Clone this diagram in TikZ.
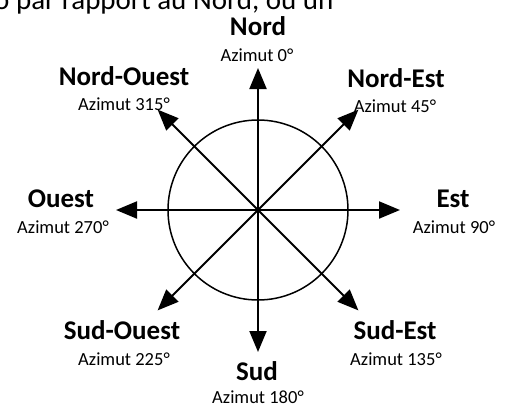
\documentclass[tikz,border=0pt]{standalone}
\usepackage{fontspec}
\setmainfont{Carlito}
\usetikzlibrary{arrows.meta}
\begin{document}
\begin{tikzpicture}[x=1pt,y=-1pt,
  dirname/.style={font=\fontsize{27}{30}\selectfont\bfseries, inner sep=0pt, anchor=base},
  azim/.style={font=\fontsize{18.5}{20}\selectfont, inner sep=0pt, anchor=base},
  arr/.style={line width=2pt, -{Triangle[length=21pt,width=17pt]}},
  ring/.style={line width=1.5pt}
]
\useasboundingbox (0,0) rectangle (508,407);
\clip (0,0) rectangle (508,407);
\fill[white] (0,0) rectangle (508,407);

% clipped line of running text at the top
\node[font=\fontsize{29}{32}\selectfont, inner sep=0pt, anchor=base west] (top) at (-6,9) {o par rapport au Nord, ou un};

\coordinate (c) at (258,210);
\node[ring, draw, circle, minimum size=180pt, inner sep=0pt] (ring) at (c) {};

\coordinate (tN)  at (258,68);
\coordinate (tS)  at (258,352);
\coordinate (tE)  at (400,210);
\coordinate (tW)  at (116,210);
\path (c) ++(100.4,-100.4) coordinate (tNE);
\path (c) ++(100.4,100.4) coordinate (tSE);
\path (c) ++(-100.4,100.4) coordinate (tSW);
\path (c) ++(-100.4,-100.4) coordinate (tNW);

\foreach \t in {tN,tS,tE,tW,tNE,tSE,tSW,tNW}
  \draw[arr] (c) -- (\t);

\node[dirname] (nN)  at (258,35)  {Nord};
\node[azim]    (aN)  at (257,61)  {Azimut 0°};
\node[dirname] (nNW) at (124,85)  {Nord-Ouest};
\node[azim]    (aNW) at (124,110) {Azimut 315°};
\node[dirname] (nNE) at (396,87)  {Nord-Est};
\node[azim]    (aNE) at (395,112) {Azimut 45°};
\node[dirname] (nW)  at (61,207)  {Ouest};
\node[azim]    (aW)  at (63,233)  {Azimut 270°};
\node[dirname] (nE)  at (453,207) {Est};
\node[azim]    (aE)  at (454,233) {Azimut 90°};
\node[dirname] (nSW) at (122,339) {Sud-Ouest};
\node[azim]    (aSW) at (124,365) {Azimut 225°};
\node[dirname] (nSE) at (395,339) {Sud-Est};
\node[azim]    (aSE) at (396,365) {Azimut 135°};
\node[dirname] (nS)  at (257,380) {Sud};
\node[azim]    (aS)  at (258,403) {Azimut 180°};
\end{tikzpicture}
\end{document}
